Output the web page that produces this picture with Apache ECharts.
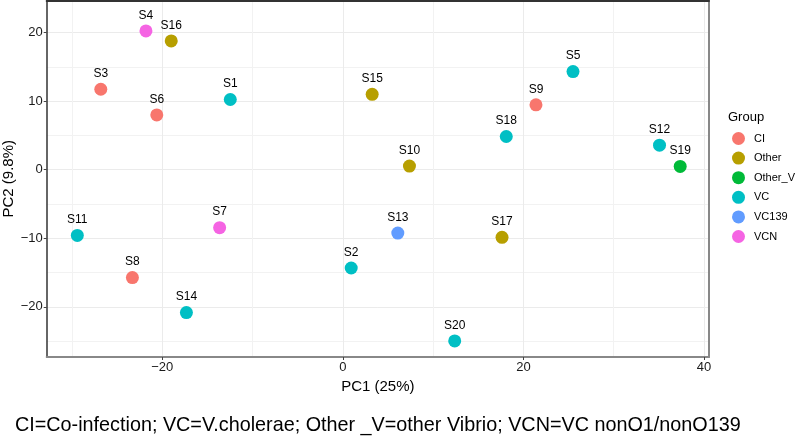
<!DOCTYPE html>
<html>
<head>
<meta charset="utf-8">
<script src="https://cdn.jsdelivr.net/npm/echarts@6/dist/echarts.min.js"></script>
<style>
html,body{margin:0;padding:0;background:#fff;}
#c{width:797px;height:437px;}
</style>
</head>
<body>
<div id="c"></div>
<script>
var samples = ['S1','S2','S3','S4','S5','S6','S7','S8','S9','S10','S11','S12','S13','S14','S15','S16','S17','S18','S19','S20'];
var groupOf = ['VC','VC','CI','VCN','VC','CI','VCN','CI','CI','Other','VC','VC','VC139','VC','Other','Other','Other','VC','Other_V','VC'];
var pc1 = [-12.46, 0.93, -26.8, -21.8, 25.49, -20.6, -13.64, -23.3, 21.39, 7.38, -29.4, 35.07, 6.09, -17.32, 3.25, -19.0, 17.63, 18.1, 37.36, 12.39];
var pc2 = [10.25, -14.34, 11.75, 20.26, 14.33, 8.0, -8.45, -15.74, 9.47, 0.53, -9.58, 3.59, -9.24, -20.85, 11.0, 18.8, -9.87, 4.85, 0.48, -24.98];
var groups = ['CI','Other','Other_V','VC','VC139','VCN'];
var groupColors = ['#F8766D','#B79F00','#00BA38','#00BFC4','#619CFF','#F564E3'];
var xTicks = [-20, 0, 20, 40];
var xMinorTicks = [-30, -10, 10, 30];
var yTicks = [-20, -10, 0, 10, 20];
var yMinorTicks = [-25, -15, -5, 5, 15];
var xName = 'PC1 (25%)';
var yName = 'PC2 (9.8%)';
var legendTitle = 'Group';
var caption = 'CI=Co-infection; VC=V.cholerae; Other _V=other Vibrio; VCN=VC nonO1/nonO139';

var XMIN = -32.79, XMAX = 40.55, YMIN = -27.33, YMAX = 24.7;
var FONT = '"Liberation Sans", Arial, Helvetica, sans-serif';

function fmt(v){ return String(Math.round(v)).replace('-', '\u2212'); }

var series = groups.map(function(g, gi){
  var data = [];
  for (var i=0;i<samples.length;i++){
    if (groupOf[i] === g) data.push({value:[pc1[i], pc2[i]], name: samples[i]});
  }
  return {
    name: g, type: 'scatter', xAxisIndex: 0, yAxisIndex: 0, z: 5,
    symbol: 'circle', symbolSize: 13,
    itemStyle: {color: groupColors[gi], opacity: 1},
    label: {show: true, position: 'top', distance: 3, formatter: '{b}', color: '#000', fontFamily: FONT, fontSize: 12},
    emphasis: {disabled: true},
    data: data
  };
});

var chart = echarts.init(document.getElementById('c'), null, {renderer: 'canvas'});
chart.setOption({
  animation: false,
  backgroundColor: '#fff',
  title: [
    {text: caption, left: 15, top: 416, padding: 0, textStyle: {fontFamily: FONT, fontSize: 19.8, fontWeight: 'normal', color: '#000'}},
    {text: legendTitle, left: 728, top: 111, padding: 0, textStyle: {fontFamily: FONT, fontSize: 13, fontWeight: 'normal', color: '#000'}}
  ],
  legend: {
    orient: 'vertical', left: 732, top: 132, padding: 0, itemWidth: 13, itemHeight: 13, itemGap: 6.6,
    icon: 'circle', data: groups,
    textStyle: {fontFamily: FONT, fontSize: 11, color: '#000', padding: [0,0,0,4]}
  },
  grid: {left: 46.7, right: 88, top: 0.5, bottom: 80, show: false, outerBoundsMode: 'none', containLabel: false},
  xAxis: [
    {type: 'value', min: XMIN, max: XMAX, position: 'bottom',
     name: xName, nameLocation: 'middle', nameGap: 22, nameMoveOverlap: false,
     nameTextStyle: {fontFamily: FONT, fontSize: 15, color: '#000'},
     axisLine: {show: true, onZero: false, lineStyle: {color: '#888', width: 2}},
     axisTick: {show: true, length: 3, customValues: xTicks, lineStyle: {color: '#444'}},
     axisLabel: {customValues: xTicks, formatter: fmt, margin: 4, fontFamily: FONT, fontSize: 13, color: '#1a1a1a'},
     splitLine: {show: true, lineStyle: {color: '#ebebeb', width: 1}}},
    {type: 'value', min: XMIN, max: XMAX, position: 'top',
     axisLine: {show: true, onZero: false, lineStyle: {color: '#333', width: 2}},
     axisTick: {show: false, customValues: xMinorTicks}, axisLabel: {show: false, customValues: xMinorTicks},
     splitLine: {show: true, lineStyle: {color: '#f2f2f2', width: 1}}}
  ],
  yAxis: [
    {type: 'value', min: YMIN, max: YMAX, position: 'left',
     name: yName, nameLocation: 'middle', nameGap: 30, nameRotate: 90, nameMoveOverlap: false,
     nameTextStyle: {fontFamily: FONT, fontSize: 15, color: '#000'},
     axisLine: {show: true, onZero: false, lineStyle: {color: '#333', width: 1.5}},
     axisTick: {show: true, length: 3, customValues: yTicks, lineStyle: {color: '#444'}},
     axisLabel: {customValues: yTicks, formatter: fmt, margin: 4, fontFamily: FONT, fontSize: 13, color: '#1a1a1a'},
     splitLine: {show: true, lineStyle: {color: '#ebebeb', width: 1}}},
    {type: 'value', min: YMIN, max: YMAX, position: 'right',
     axisLine: {show: true, onZero: false, lineStyle: {color: '#888', width: 2}},
     axisTick: {show: false, customValues: yMinorTicks}, axisLabel: {show: false, customValues: yMinorTicks},
     splitLine: {show: true, lineStyle: {color: '#f2f2f2', width: 1}}}
  ],
  series: series
});
</script>
</body>
</html>
